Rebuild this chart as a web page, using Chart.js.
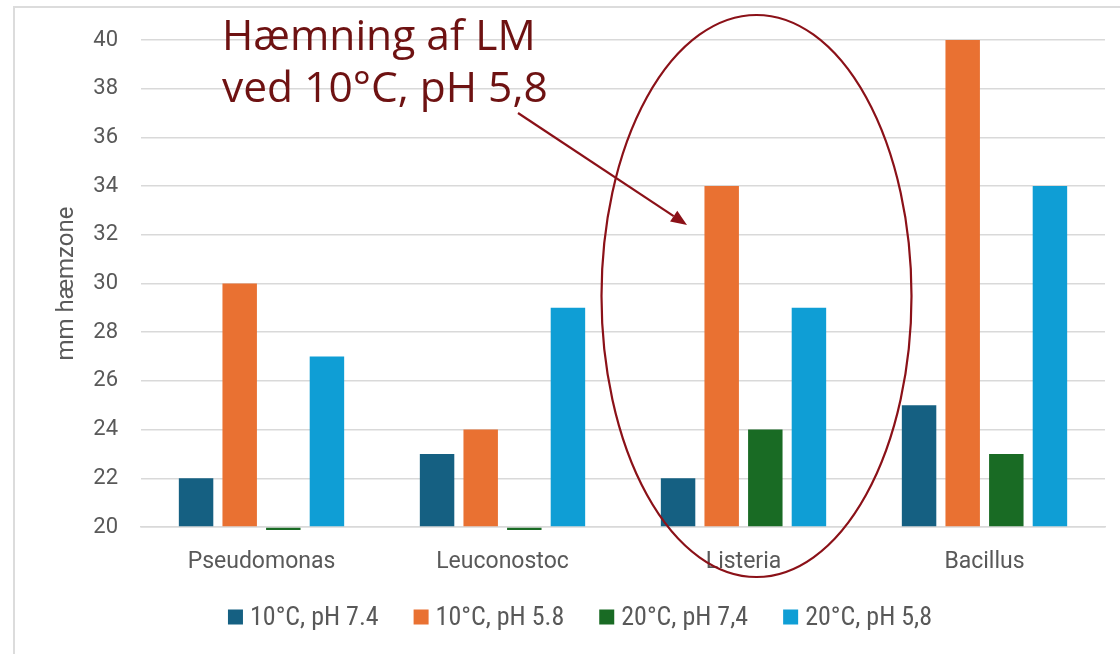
<!DOCTYPE html>
<html>
<head>
<meta charset="utf-8">
<script src="https://cdn.jsdelivr.net/npm/chart.js@4"></script>
<style>
  html, body { margin: 0; padding: 0; background: #fff; overflow: hidden; }
  #wrap { position: relative; width: 1120px; height: 654px; }
  #frame { position: absolute; left: 13px; top: 6px; width: 1200px; height: 760px; border: 2px solid #dcdcdc; }
  canvas { position: absolute; left: 0; top: 0; }
</style>
</head>
<body>
<div id="wrap">
  <div id="frame"></div>
  <canvas id="chart" width="1120" height="654"></canvas>
</div>
<script>
// data
const categories = ["Pseudomonas", "Leuconostoc", "Listeria", "Bacillus"];
const seriesNames = ["10°C, pH 7.4", "10°C, pH 5.8", "20°C, pH 7,4", "20°C, pH 5,8"];
const temp10ph74 = [22, 23, 22, 25];
const temp10ph58 = [30, 24, 34, 40];
const temp20ph74 = [19.88, 19.88, 24, 23];
const temp20ph58 = [27, 29, 29, 34];
const colors = ["#156082", "#E97132", "#196B24", "#0F9ED5"];

const yTitle = "mm hæmzone";
const noteLines = ["Hæmning af LM", "ved 10°C, pH 5,8"];

const tickColor = "#595959";
const gridColor = "#d9d9d9";
const noteColor = "#6e1212";
const ringColor = "#8b1118";
const legendFont = "26px 'Liberation Sans Narrow', 'Roboto Condensed', Roboto";

// legend row under the axis, drawn by hand to get Excel-like spacing
const bottomLegend = {
  id: "bottomLegend",
  afterDraw(chart) {
    const ctx = chart.ctx;
    ctx.save();
    ctx.font = legendFont;
    ctx.textBaseline = "middle";
    const box = 15, gap = 7, spacing = 35;
    const widths = chart.data.datasets.map(d => ctx.measureText(d.label).width);
    const total = widths.reduce((a, w) => a + box + gap + w, 0) + spacing * (widths.length - 1);
    let x = 580 - total / 2;
    const y = 617;
    chart.data.datasets.forEach((d, i) => {
      ctx.fillStyle = d.backgroundColor;
      ctx.fillRect(x, y - box / 2, box, box);
      ctx.fillStyle = tickColor;
      ctx.fillText(d.label, x + box + gap, y + 1);
      x += box + gap + widths[i] + spacing;
    });
    ctx.restore();
  }
};

// callout: text, arrow and ellipse round Listeria
const callout = {
  id: "callout",
  afterDraw(chart) {
    const ctx = chart.ctx;
    const x = chart.scales.x;
    ctx.save();
    ctx.fillStyle = noteColor;
    ctx.font = "42.5px 'Open Sans'";
    ctx.textBaseline = "alphabetic";
    ctx.fillText(noteLines[0], 222, 50);
    ctx.fillText(noteLines[1], 222, 102);

    // ellipse around the Listeria group
    const cx = x.getPixelForValue(2) + 13;
    const cy = (15 + 577) / 2;
    ctx.strokeStyle = ringColor;
    ctx.lineWidth = 2.2;
    ctx.beginPath();
    ctx.ellipse(cx, cy, 155, 281, 0, 0, Math.PI * 2);
    ctx.stroke();

    // arrow pointing at the orange Listeria bar
    const x0 = 518, y0 = 113, x1 = 687, y1 = 225;
    const ang = Math.atan2(y1 - y0, x1 - x0);
    const head = 16, half = 6.5;
    ctx.beginPath();
    ctx.moveTo(x0, y0);
    ctx.lineTo(x1 - Math.cos(ang) * head, y1 - Math.sin(ang) * head);
    ctx.stroke();
    ctx.fillStyle = ringColor;
    ctx.beginPath();
    ctx.moveTo(x1, y1);
    ctx.lineTo(x1 - Math.cos(ang) * head - Math.sin(ang) * half, y1 - Math.sin(ang) * head + Math.cos(ang) * half);
    ctx.lineTo(x1 - Math.cos(ang) * head + Math.sin(ang) * half, y1 - Math.sin(ang) * head - Math.cos(ang) * half);
    ctx.closePath();
    ctx.fill();
    ctx.restore();
  }
};

const values = [temp10ph74, temp10ph58, temp20ph74, temp20ph58];
const datasets = seriesNames.map((name, i) => ({
  label: name,
  data: values[i],
  backgroundColor: colors[i],
  borderWidth: 0,
  base: 20,
  categoryPercentage: 0.724,
  barPercentage: 0.79,
  clip: { left: 0, top: 0, right: 0, bottom: 5 }
}));

const ctx = document.getElementById("chart").getContext("2d");
const myChart = new Chart(ctx, {
  type: "bar",
  data: { labels: categories, datasets: datasets },
  plugins: [callout, bottomLegend],
  options: {
    responsive: false,
    animation: false,
    layout: { padding: { top: 40, right: 15, left: 0, bottom: 81 } },
    plugins: {
      tooltip: { enabled: false },
      legend: { display: false }
    },
    scales: {
      x: {
        grid: { display: false },
        border: { display: true, color: gridColor, width: 1.5 },
        ticks: { color: tickColor, font: { family: "Roboto", size: 23 }, padding: 13, maxRotation: 0, autoSkip: false },
        afterFit(scale) { scale.height = 46; }
      },
      y: {
        min: 20,
        max: 40,
        ticks: { stepSize: 2, color: tickColor, font: { family: "Roboto", size: 22 }, padding: 23 },
        grid: { color: gridColor, lineWidth: 1.5, drawTicks: false },
        border: { display: false },
        title: {
          display: true,
          text: yTitle,
          color: tickColor,
          font: { family: "Roboto", size: 24 },
          padding: { top: 53, bottom: 0 }
        },
        afterFit(scale) { scale.width = 141; }
      }
    }
  }
});
</script>
</body>
</html>
